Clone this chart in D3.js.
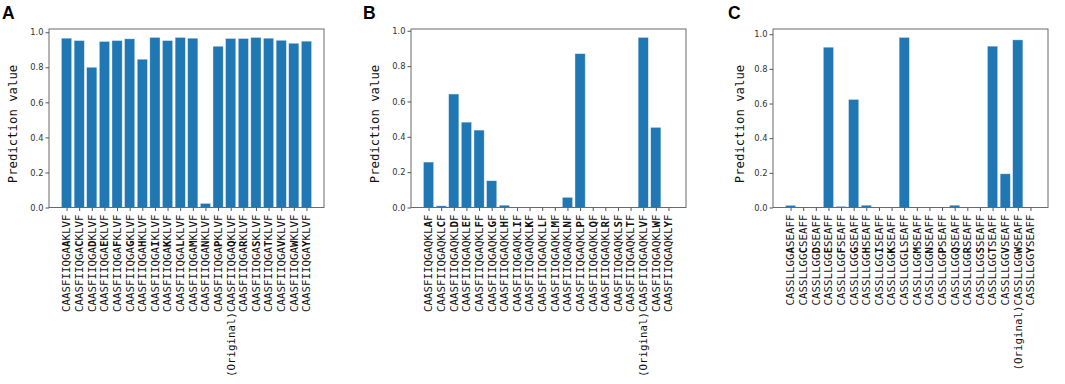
<!DOCTYPE html>
<html>
<head>
<meta charset="utf-8">
<script src="https://cdn.jsdelivr.net/npm/d3@7"></script>
<style>
  body { margin: 0; background: #fff; }
  svg { display: block; }
</style>
</head>
<body>
<div id="chart"></div>
<script>
// substituted residues, in plotting order
const aResidues = ["A","C","D","E","F","G","H","I","K","L","M","N","P","Q","R","S","T","V","W","Y"];
const aValues = [0.966, 0.952, 0.800, 0.947, 0.952, 0.962, 0.846, 0.970, 0.952, 0.970,
                 0.966, 0.023, 0.920, 0.964, 0.964, 0.970, 0.966, 0.954, 0.937, 0.949];

const bResidues = ["A","C","D","E","F","G","H","I","K","L","M","N","P","Q","R","S","T","V","W","Y"];
const bValues = [0.257, 0.009, 0.642, 0.483, 0.438, 0.151, 0.013, 0, 0, 0,
                 0, 0.057, 0.870, 0, 0, 0, 0, 0.962, 0.453, 0];

const cResidues = ["A","C","D","E","F","G","H","I","K","L","M","N","P","Q","R","S","T","V","W","Y"];
const cValues = [0.012, 0, 0, 0.925, 0.006, 0.623, 0.013, 0, 0, 0.981,
                 0, 0, 0, 0.013, 0, 0, 0.931, 0.194, 0.967, 0];

const yTicks = [0, 0.2, 0.4, 0.6, 0.8, 1.0];

const width = 1065, height = 384;
const plotTop = 29, plotBottom = 207.5;

const svg = d3.select("#chart").append("svg")
  .attr("width", width)
  .attr("height", height);

const panels = [
  { letter: "A", lx: 2, left: 49, right: 324, labelX: 13,
    residues: aResidues, values: aValues, pre: "CAASFIIQGA", post: "KLVF", original: "Q" },
  { letter: "B", lx: 363, left: 411, right: 686, labelX: 375,
    residues: bResidues, values: bValues, pre: "CAASFIIQGAQKL", post: "F", original: "V" },
  { letter: "C", lx: 728, left: 773, right: 1048, labelX: 740,
    residues: cResidues, values: cValues, pre: "CASSLLGG", post: "SEAFF", original: "W" }
];

panels.forEach(drawPanel);

function drawPanel(p) {
  const n = p.values.length;
  // matplotlib-like margins: bars of width 0.8 plus 5% padding
  const span = (n - 1) + 0.8;
  const pad = span * 0.05;
  const x = d3.scaleLinear()
    .domain([-0.4 - pad, n - 1 + 0.4 + pad])
    .range([p.left, p.right]);
  const y = d3.scaleLinear()
    .domain([0, d3.max(p.values) * 1.05])
    .range([plotBottom, plotTop]);

  const g = svg.append("g");

  // panel letter
  svg.append("text")
    .attr("x", p.lx)
    .attr("y", 18.5)
    .attr("font-family", "Liberation Sans, Arial, sans-serif")
    .attr("font-weight", "bold")
    .attr("font-size", 17.5)
    .attr("fill", "#000")
    .text(p.letter);

  // bars
  g.selectAll("rect.bar")
    .data(p.values)
    .enter()
    .append("rect")
    .attr("class", "bar")
    .attr("x", (d, i) => x(i - 0.4))
    .attr("width", x(0.4) - x(-0.4))
    .attr("y", d => y(d))
    .attr("height", d => y(0) - y(d))
    .attr("fill", "#1f77b4")
    .attr("stroke", "#d5e4f0")
    .attr("stroke-width", 0.4);

  // frame
  g.append("rect")
    .attr("x", p.left)
    .attr("y", plotTop)
    .attr("width", p.right - p.left)
    .attr("height", plotBottom - plotTop)
    .attr("fill", "none")
    .attr("stroke", "#6a6a6a")
    .attr("stroke-width", 1);

  // y axis
  const yAxis = d3.axisLeft(y)
    .tickValues(yTicks)
    .tickSize(3.5)
    .tickPadding(2)
    .tickFormat(d3.format(".1f"));
  const ya = g.append("g")
    .attr("transform", "translate(" + p.left + ",0)")
    .call(yAxis);
  ya.select(".domain").remove();
  ya.selectAll("line").attr("stroke", "#555");
  ya.selectAll("text")
    .attr("fill", "#333")
    .attr("font-family", "DejaVu Sans, sans-serif")
    .attr("font-size", 8.3);

  // x axis ticks
  const xAxis = d3.axisBottom(x)
    .tickValues(d3.range(n))
    .tickSize(3.5)
    .tickFormat("");
  const xa = g.append("g")
    .attr("transform", "translate(0," + plotBottom + ")")
    .call(xAxis);
  xa.select(".domain").remove();
  xa.selectAll("line").attr("stroke", "#555");

  // rotated sequence labels with the substituted residue in bold
  const labels = g.selectAll("text.seq")
    .data(p.residues)
    .enter()
    .append("text")
    .attr("class", "seq")
    .attr("transform", (d, i) => "translate(" + x(i) + "," + (plotBottom + 7) + ") rotate(-90)")
    .attr("text-anchor", "end")
    .attr("dy", "0.36em")
    .attr("font-family", "DejaVu Sans Mono, monospace")
    .attr("font-size", 10.8)
    .attr("fill", "#111");
  labels.each(function (d) {
    const t = d3.select(this);
    if (d === p.original) t.append("tspan").text("(Original)");
    t.append("tspan").text(p.pre);
    t.append("tspan").attr("font-weight", "bold").text(d);
    t.append("tspan").text(p.post);
  });

  // y label
  svg.append("text")
    .attr("transform", "translate(" + p.labelX + ",124) rotate(-90)")
    .attr("text-anchor", "middle")
    .attr("dy", "0.35em")
    .attr("font-family", "DejaVu Sans Mono, monospace")
    .attr("font-size", 12.3)
    .attr("fill", "#111")
    .text("Prediction value");
}
</script>
</body>
</html>
